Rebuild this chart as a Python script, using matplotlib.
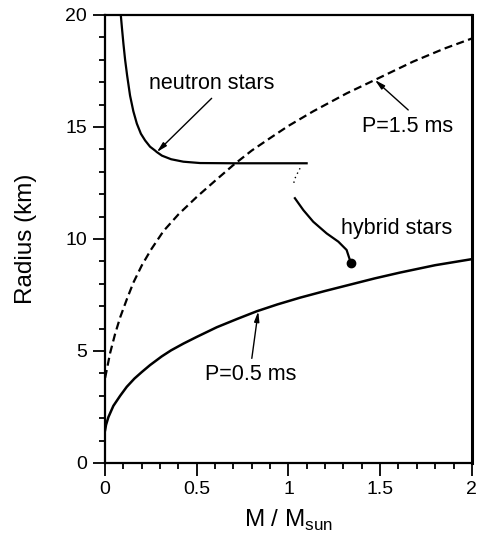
import matplotlib
matplotlib.use('Agg')
import matplotlib.pyplot as plt
from matplotlib.ticker import MultipleLocator

plt.rcParams['font.family'] = ['Liberation Sans', 'DejaVu Sans']

# neutron star branch (M/Msun, R km)
ns_mass = [0.0855, 0.092, 0.100, 0.109, 0.120, 0.136, 0.154, 0.173, 0.195, 0.218,
           0.245, 0.272, 0.282, 0.310, 0.360, 0.427, 0.518, 0.70, 0.90, 1.099]
ns_radius = [20.0, 19.4, 18.7, 18.0, 17.3, 16.4, 15.7, 15.15, 14.7, 14.4,
             14.12, 13.95, 13.88, 13.72, 13.56, 13.45, 13.39, 13.38, 13.38, 13.38]

# unstable transition (dotted)
tr_mass = [1.063, 1.05, 1.035, 1.026]
tr_radius = [13.16, 12.95, 12.7, 12.41]

# hybrid star branch
hy_mass = [1.035, 1.081, 1.135, 1.208, 1.272, 1.317, 1.335, 1.341]
hy_radius = [11.82, 11.29, 10.77, 10.25, 9.88, 9.51, 9.06, 8.94]

# P = 1.5 ms mass shedding limit (dashed)
p15_mass = [0.0, 0.010, 0.027, 0.054, 0.082, 0.118, 0.154, 0.200, 0.250, 0.318,
            0.400, 0.500, 0.600, 0.699, 0.800, 0.899, 1.000, 1.135, 1.317, 1.471,
            1.680, 1.850, 2.0]
p15_radius = [3.8, 4.2, 4.9, 5.75, 6.5, 7.3, 8.05, 8.82, 9.52, 10.35,
              11.1, 11.88, 12.6, 13.3, 13.95, 14.5, 15.05, 15.7, 16.5, 17.1,
              17.92, 18.5, 18.95]

# P = 0.5 ms (solid)
p05_mass = [0.0, 0.005, 0.018, 0.045, 0.082, 0.118, 0.160, 0.200, 0.245, 0.309,
            0.360, 0.427, 0.500, 0.609, 0.720, 0.826, 0.940, 1.063, 1.200, 1.335,
            1.470, 1.608, 1.800, 2.0]
p05_radius = [1.47, 1.7, 2.05, 2.55, 3.0, 3.4, 3.77, 4.06, 4.37, 4.76,
              5.03, 5.33, 5.63, 6.06, 6.43, 6.77, 7.08, 7.38, 7.68, 7.96,
              8.24, 8.5, 8.83, 9.1]

fig = plt.figure(figsize=(4.8, 5.35), dpi=100)
ax = fig.add_axes([0.219, 0.1346, 0.764, 0.8374])

ax.plot(ns_mass, ns_radius, 'k-', lw=1.6)
ax.plot(tr_mass, tr_radius, 'k', ls=(0, (1, 2.5)), lw=1.0)
ax.plot(hy_mass, hy_radius, 'k-', lw=1.6)
ax.plot(hy_mass[-1], hy_radius[-1], 'ko', ms=6)
ax.plot(p15_mass, p15_radius, 'k--', lw=1.6, dashes=(3.6, 2.0))
ax.plot(p05_mass, p05_radius, 'k-', lw=1.8)

arrow = dict(arrowstyle='-|>,head_length=0.6,head_width=0.15', color='k', lw=1.0,
             shrinkA=0, shrinkB=0)
fs = 15.5
ax.text(0.581, 16.95, 'neutron stars', fontsize=fs, ha='center', va='center')
ax.annotate('', xy=(0.282, 13.88), xytext=(0.581, 16.28), arrowprops=arrow)
ax.text(1.648, 15.02, 'P=1.5 ms', fontsize=fs, ha='center', va='center')
ax.annotate('', xy=(1.471, 17.1), xytext=(1.653, 15.76), arrowprops=arrow)
ax.text(1.59, 10.48, 'hybrid stars', fontsize=fs, ha='center', va='center')
ax.text(0.795, 3.93, 'P=0.5 ms', fontsize=fs, ha='center', va='center')
ax.annotate('', xy=(0.835, 6.77), xytext=(0.80, 4.67), arrowprops=arrow)

ax.set_xlim(0, 2)
ax.set_ylim(0, 20)
ax.xaxis.set_major_locator(MultipleLocator(0.5))
ax.xaxis.set_minor_locator(MultipleLocator(0.1))
ax.yaxis.set_major_locator(MultipleLocator(5))
ax.yaxis.set_minor_locator(MultipleLocator(1))
ax.set_xticks([0, 0.5, 1, 1.5, 2])
ax.set_xticklabels(['0', '0.5', '1', '1.5', '2'])
ax.tick_params(which='both', direction='out', top=False, right=False,
               labelsize=14, width=1.3)
ax.tick_params(which='major', length=9, pad=4)
ax.tick_params(which='minor', length=4.5)
for s in ax.spines.values():
    s.set_linewidth(1.6)
ax.spines['right'].set_linewidth(2.2)

ax.set_xlabel(r'M / M$_{\mathregular{sun}}$', fontsize=17.5, va='top')
ax.set_ylabel('Radius (km)', fontsize=17.5, va='bottom')
ax.xaxis.set_label_coords(0.5, -0.1)
ax.yaxis.set_label_coords(-0.185, 0.5)

fig.savefig('out.png', dpi=100)
